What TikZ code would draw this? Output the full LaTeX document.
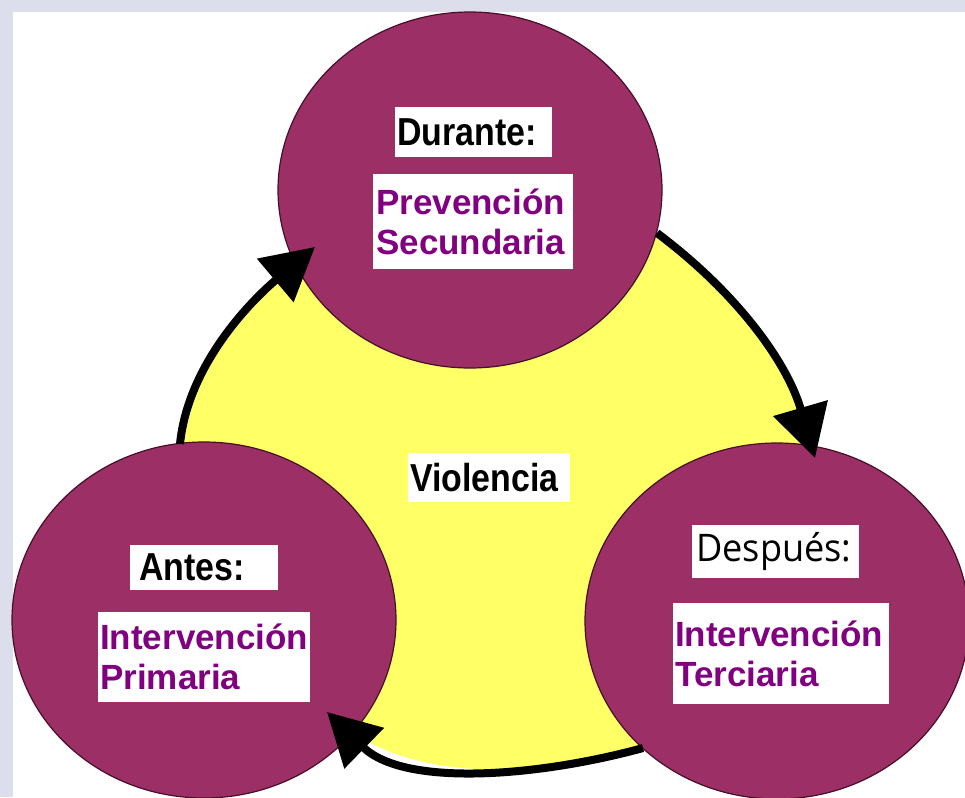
\documentclass[tikz,border=0pt]{standalone}
\usepackage{fontspec}
\setmainfont{Liberation Sans}
\newfontfamily\blkfont[FakeStretch=0.87]{Liberation Sans}
\newfontfamily\purfont{Liberation Sans}
\newfontfamily\regfont[FakeStretch=0.95]{Open Sans}
\usetikzlibrary{shapes.geometric,arrows.meta}
\definecolor{lav}{RGB}{220,222,236}
\definecolor{bubblefill}{RGB}{157,47,103}
\definecolor{bubbleline}{RGB}{70,15,40}
\definecolor{yel}{RGB}{255,255,102}
\definecolor{purp}{RGB}{128,0,128}
\begin{document}
\begin{tikzpicture}[x=1pt,y=-1pt,
  bubble/.style={ellipse, fill=bubblefill, draw=bubbleline, line width=1.2pt,
    minimum width=384pt, minimum height=356pt, inner sep=0pt},
  lbl/.style={fill=white, inner ysep=0pt, align=left, anchor=north west},
  blacklbl/.style={lbl, text=black, font=\blkfont\bfseries\fontsize{39}{42}\selectfont},
  purplbl/.style={lbl, text=purp, font=\purfont\bfseries\fontsize{35}{40}\selectfont},
  arr/.style={line width=8pt, draw=black, -{Triangle[length=52pt,width=55pt]}}]
\useasboundingbox (0,0) rectangle (965,797);
% background
\fill[lav] (0,0) rectangle (965,797);
\fill[white] (13,12) rectangle (965,797);
% arrow end points
\coordinate (s1) at (180,444);
\coordinate (e1) at (315,247);
\coordinate (s2) at (657,233);
\coordinate (e2) at (815,458);
\coordinate (s3) at (643,748);
\coordinate (e3) at (327,712);
% yellow centre
\fill[yel] (s1) .. controls (188,364) and (252,300) .. (e1) -- (s2)
  .. controls (737,293) and (787,362) .. (e2) -- (s3)
  .. controls (541,776) and (405,788) .. (e3) -- cycle;
% bubbles
\node[bubble] (top) at (470,190) {};
\node[bubble] (left) at (204,620) {};
\node[bubble] (right) at (777,621) {};
% arrows
\draw[arr] (s1) .. controls (188,364) and (252,300) .. (e1);
\draw[arr] (s2) .. controls (737,293) and (787,362) .. (e2);
\draw[arr] (s3) .. controls (541,776) and (405,788) .. (e3);
% labels
\node[blacklbl, inner xsep=2pt, text width=153pt, minimum height=50pt] (durante) at (395,107) {Durante:};
\node[purplbl, inner xsep=3pt, text width=194pt, minimum height=95pt] (secund) at (373,174) {Prevención\\Secundaria};
\node[blacklbl, inner xsep=9pt, text width=130pt, minimum height=45pt] (antes) at (130,545) {Antes:};
\node[purplbl, inner xsep=2pt, text width=208pt, minimum height=90pt] (primaria) at (98,612) {Intervención\\Primaria};
\node[lbl, inner xsep=4pt, text width=159pt, minimum height=53pt, text=black, font=\regfont\fontsize{38}{42}\selectfont] (despues) at (692,525) {Después:};
\node[purplbl, inner xsep=2pt, text width=212pt, minimum height=101pt] (terciaria) at (673,603) {Intervención\\Terciaria};
\node[blacklbl, inner xsep=2pt, text width=158pt, minimum height=49pt] (violencia) at (408,453) {Violencia};
\end{tikzpicture}
\end{document}
